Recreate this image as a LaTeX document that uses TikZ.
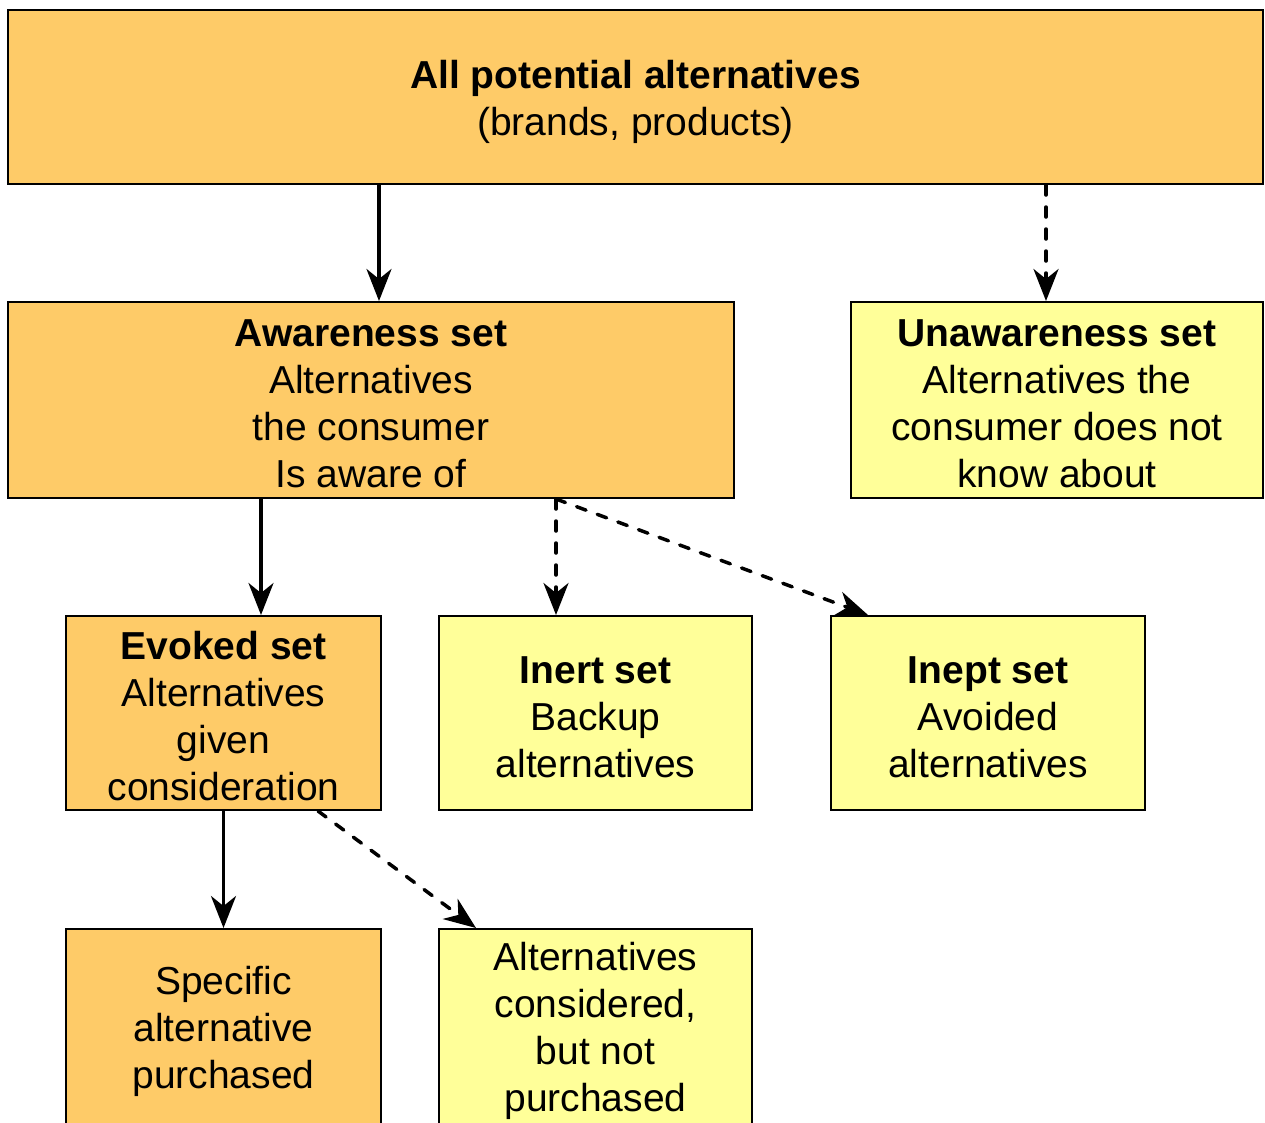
\documentclass[tikz,border=0pt]{standalone}
\usepackage{fontspec}
\setmainfont{Liberation Sans}
\usetikzlibrary{arrows.meta,calc}
\definecolor{setorange}{RGB}{254,203,104}
\definecolor{setyellow}{RGB}{255,255,153}
% taller first line so the text block sits a little lower in its box
\newcommand{\firstline}{\rule{0pt}{35pt}}
\tikzset{
  setbox/.style={draw=black, line width=2pt, rectangle, anchor=north west,
    inner sep=0pt, align=center, font=\fontsize{39}{47}\selectfont},
  known/.style={setbox, fill=setorange},
  unknown/.style={setbox, fill=setyellow},
  link/.style={line width=3.5pt, -{Stealth[length=32pt,width=25pt,inset=10pt]}},
  maybe/.style={link, line cap=round, dash pattern=on 10pt off 12pt},
}
\begin{document}
\begin{tikzpicture}[x=1pt,y=-1pt]
\useasboundingbox (0,0) rectangle (1265,1122);

% set boxes
\node[known, minimum width=1255, minimum height=174] (all) at (7,9)
  {\rule{0pt}{38pt}\textbf{All potential alternatives}\\(brands, products)};
\node[known, minimum width=726, minimum height=196] (aware) at (7,301)
  {\firstline\textbf{Awareness set}\\Alternatives\\the consumer\\Is aware of};
\node[unknown, minimum width=412, minimum height=196] (unaware) at (850,301)
  {\firstline\textbf{Unawareness set}\\Alternatives the\\consumer does not\\know about};
\node[known, minimum width=315, minimum height=194] (evoked) at (65,615)
  {\firstline\textbf{Evoked set}\\Alternatives\\given\\consideration};
\node[unknown, minimum width=313, minimum height=194] (inert) at (438,615)
  {\firstline\textbf{Inert set}\\Backup\\alternatives};
\node[unknown, minimum width=314, minimum height=194] (inept) at (830,615)
  {\firstline\textbf{Inept set}\\Avoided\\alternatives};
\node[known, minimum width=315, minimum height=198] (bought) at (65,928)
  {\firstline Specific\\alternative\\purchased};
\node[unknown, minimum width=313, minimum height=198] (passed) at (438,928)
  {\firstline Alternatives\\considered,\\but not\\purchased};

% connectors
\draw[link]  ($(all.south west)+(372,0)$) -- ($(aware.north west)+(372,0)$);
\draw[maybe] ($(all.south west)+(1039,0)$) -- ($(unaware.north west)+(196,0)$);
\draw[link]  ($(aware.south west)+(254,0)$) -- ($(evoked.north west)+(196,0)$);
\draw[maybe] ($(aware.south west)+(549,0)$) -- ($(inert.north west)+(118,0)$);
\draw[maybe] ($(aware.south west)+(549,0)$) -- ($(inept.north west)+(38,0)$);
\draw[link]  (evoked.south) -- (bought.north);
\draw[maybe] ($(evoked.south west)+(253,0)$) -- ($(passed.north west)+(38,0)$);
\end{tikzpicture}
\end{document}
